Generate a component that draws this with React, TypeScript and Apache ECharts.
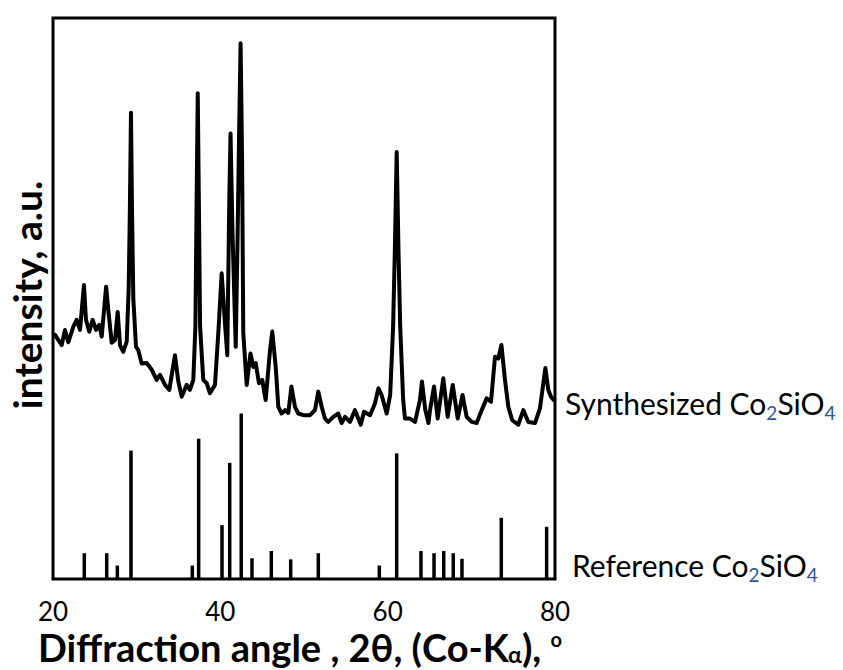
import React, { useEffect, useRef } from "react";
import * as echarts from "echarts";

// Measured XRD pattern of the synthesized powder (2θ in degrees, intensity in a.u.)
const scanAngles = [
  20.24, 21.04, 21.43, 21.83, 22.43, 22.83, 23.23, 23.7, 23.94, 24.34, 24.74, 25.14,
  25.53, 25.82, 26.35, 26.61, 27.02, 27.41, 27.73, 28.01, 28.4, 28.81, 29.05, 29.18,
  29.32, 29.45, 29.6, 29.92, 30.19, 30.6, 31.2, 31.8, 32.39, 32.79, 33.39, 33.9,
  34.58, 34.98, 35.38, 35.98, 36.37, 36.77, 37.02, 37.15, 37.3, 37.45, 37.58, 37.96,
  38.37, 38.76, 39.36, 39.76, 40.16, 40.47, 40.83, 41.07, 41.22, 41.45, 41.84, 42.07,
  42.25, 42.42, 42.6, 42.74, 43.15, 43.6, 43.94, 44.23, 44.62, 45.01, 45.42, 45.94,
  46.21, 46.62, 46.93, 47.33, 47.73, 48.12, 48.5, 48.92, 49.32, 49.92, 50.72, 51.31,
  51.71, 52.11, 52.51, 52.9, 53.5, 54.1, 54.5, 54.9, 55.5, 56.09, 56.49, 56.78,
  57.17, 57.89, 58.48, 58.9, 59.28, 59.88, 60.3, 60.65, 60.85, 61.08, 61.3, 61.5,
  61.85, 62.07, 62.67, 63.27, 63.86, 64.1, 64.5, 64.88, 65.06, 65.54, 65.98, 66.65,
  67.17, 67.78, 68.37, 68.95, 69.44, 70.04, 70.64, 71.24, 71.83, 72.35, 72.83, 73.22,
  73.6, 74.02, 74.42, 74.89, 75.61, 76.21, 76.81, 77.61, 78.2, 78.85, 79.2, 79.52,
  79.85,
];
const scanIntensity = [
  43.5, 41.7, 44.4, 42.2, 45.0, 46.2, 44.4, 52.4, 46.2, 44.1, 46.2, 44.4,
  45.3, 43.2, 52.1, 47.9, 42.1, 42.6, 47.6, 41.7, 40.5, 42.3, 52.0, 65.0,
  83.1, 65.0, 50.0, 41.4, 40.8, 38.4, 38.5, 37.3, 35.5, 36.4, 34.6, 33.7,
  39.9, 35.2, 32.5, 34.6, 33.7, 35.5, 45.0, 65.0, 86.6, 65.0, 45.0, 35.5,
  34.9, 33.1, 34.6, 43.9, 54.5, 47.4, 39.9, 67.6, 79.4, 62.0, 41.4, 61.7,
  80.0, 95.5, 75.0, 43.9, 34.6, 40.2, 37.8, 38.5, 34.9, 35.5, 31.9, 40.8,
  44.1, 37.8, 30.7, 29.5, 30.1, 29.6, 34.3, 30.7, 29.5, 29.2, 29.2, 30.1,
  33.4, 30.7, 28.6, 28.0, 28.9, 29.5, 27.8, 28.9, 28.0, 30.1, 28.6, 27.5,
  29.8, 29.2, 31.3, 34.0, 32.8, 29.5, 32.8, 45.0, 58.0, 76.1, 58.0, 45.0,
  32.0, 28.6, 28.6, 28.0, 31.9, 35.2, 30.1, 27.8, 30.1, 34.3, 28.6, 35.8,
  28.9, 34.6, 28.6, 32.8, 28.9, 28.0, 27.8, 30.1, 32.2, 31.6, 39.6, 39.3,
  41.7, 35.5, 30.7, 28.3, 27.5, 30.1, 28.0, 27.8, 30.4, 37.6, 33.7, 32.5,
  31.9,
];

// Reference Co2SiO4 stick pattern (2θ, relative intensity)
const refAngles = [
  23.74, 26.42, 27.69, 29.32, 36.65, 37.41, 40.2, 41.12, 42.5, 43.78, 46.09,
  48.41, 51.71, 59.0, 61.08, 63.98, 65.54, 66.7, 67.84, 68.88, 73.58, 79.0,
];
const refHeights = [
  4.6, 4.6, 2.4, 22.9, 2.4, 25.0, 9.6, 20.7, 29.5, 3.7, 5.0,
  3.5, 4.6, 2.4, 22.4, 5.0, 4.6, 5.0, 4.6, 3.6, 10.9, 9.3,
];

const xTicks = { min: 20, max: 80, step: 20 };

const FONT = 'Lato, "Open Sans", sans-serif';
const SUB_BLUE = "#2f5597";

export default function App() {
  const ref = useRef<HTMLDivElement>(null);

  useEffect(() => {
    if (!ref.current) return;
    const chart = echarts.init(ref.current, undefined, { renderer: "svg" });

    const scan = scanAngles.map((a, i) => [a, scanIntensity[i]]);
    const sticks = refAngles.map((a, i) => [a, refHeights[i]]);

    // Sample labels: plain text plus lowered, smaller subscripts
    const labelRich = {
      n: { fontSize: 30, fontFamily: FONT, fill: "#000", color: "#000", lineHeight: 35 },
      s: {
        fontSize: 19,
        fontFamily: FONT,
        fill: SUB_BLUE,
        color: SUB_BLUE,
        lineHeight: 18,
        verticalAlign: "top",
        padding: [17, 0, 0, 0],
      },
    };

    chart.setOption({
      animation: false,
      backgroundColor: "#fff",
      grid: {
        left: 53,
        right: 288,
        top: 18,
        bottom: 91,
        show: true,
        borderColor: "#000",
        borderWidth: 3,
        backgroundColor: "transparent",
      },
      xAxis: {
        type: "value",
        min: xTicks.min,
        max: xTicks.max,
        interval: xTicks.step,
        axisLine: { show: false },
        axisTick: { show: false },
        splitLine: { show: false },
        axisLabel: {
          fontSize: 26,
          color: "#000",
          fontFamily: FONT,
          margin: 20,
          lineHeight: 24,
        },
      },
      yAxis: {
        type: "value",
        min: 0,
        max: 100,
        show: false,
      },
      series: [
        {
          type: "bar",
          data: sticks,
          barWidth: 3.5,
          itemStyle: { color: "#000" },
          z: 2,
        },
        {
          type: "line",
          data: scan,
          showSymbol: false,
          symbol: "none",
          lineStyle: { color: "#000", width: 4, join: "round", cap: "round" },
          z: 3,
        },
      ],
      graphic: [
        {
          type: "text",
          x: 27,
          y: 295,
          rotation: Math.PI / 2,
          style: {
            text: "intensity, a.u.",
            fontSize: 39,
            fontWeight: "bold",
            fontFamily: FONT,
            fill: "#000",
            align: "center",
            verticalAlign: "middle",
            textAlign: "center",
            textVerticalAlign: "middle",
          },
        },
        {
          type: "text",
          x: 38,
          y: 647,
          style: {
            text: "{b|Diffraction angle , 2θ, (Co-K}{bs|α}{b|), }{bo|o}",
            verticalAlign: "middle",
            textVerticalAlign: "middle",
            rich: {
              b: { fontSize: 38, fontWeight: "bold", fontFamily: FONT, fill: "#000", color: "#000", lineHeight: 36 },
              bs: {
                fontSize: 23,
                fontWeight: "bold",
                fontFamily: FONT,
                fill: "#000",
                color: "#000",
                lineHeight: 20,
                verticalAlign: "top",
                padding: [13, 0, 0, 0],
              },
              bo: {
                fontSize: 20,
                fontWeight: "bold",
                fontFamily: FONT,
                fill: "#000",
                color: "#000",
                lineHeight: 20,
                verticalAlign: "top",
              },
            },
          },
        },
        {
          type: "text",
          x: 565,
          y: 403,
          style: {
            text: "{n|Synthesized Co}{s|2}{n|SiO}{s|4}",
            verticalAlign: "middle",
            textVerticalAlign: "middle",
            rich: labelRich,
          },
        },
        {
          type: "text",
          x: 572,
          y: 565,
          style: {
            text: "{n|Reference Co}{s|2}{n|SiO}{s|4}",
            verticalAlign: "middle",
            textVerticalAlign: "middle",
            rich: labelRich,
          },
        },
      ],
    });

    return () => chart.dispose();
  }, []);

  return (
    <div
      ref={ref}
      style={{ position: "fixed", left: 0, top: 0, width: 843, height: 670 }}
    />
  );
}
